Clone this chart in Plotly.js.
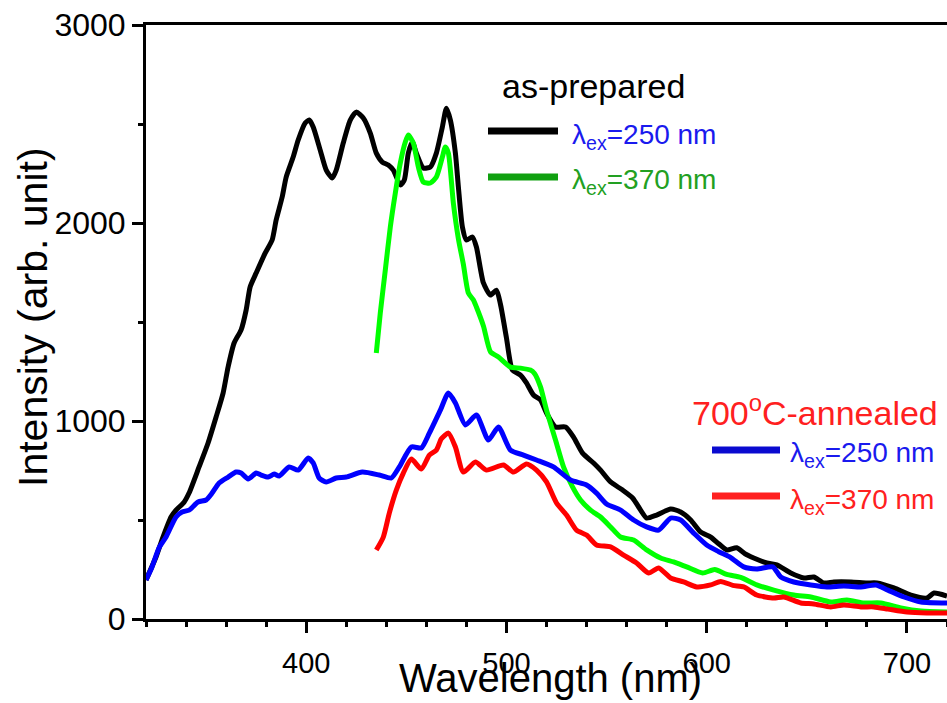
<!DOCTYPE html>
<html>
<head>
<meta charset="utf-8">
<script src="https://cdn.plot.ly/plotly-3.0.1.min.js"></script>
<style>html,body{margin:0;padding:0;background:#fff;}#chart{width:947px;height:703px;}</style>
</head>
<body>
<div id="chart"></div>
<script>
// as-prepared, excitation 250 nm (black)
const wlPrep250 = [320,325,328,332.5,335,339,341.5,346.5,351,355,358.5,361,364,367.5,370,372,375,379.5,383,385,388,390,393.5,396,399.5,401.5,403.5,407,410,413,415,418.5,422,425,428.5,432,435,438,441,443.5,447,449,451,453,455,458.5,462,465,468,470,472,474.5,476,478,480,483,485,488.5,492,495,497,500,503,507,510,513.5,517,520,524.5,529.5,533.5,538,543.5,547,552,558,563,567,570,575,582,587,592,597,602,606,610,615,619,623.5,630,635,642,648.5,653.5,658.5,663.5,672,680,685,693.5,702,710,713.5,720];
const inPrep250 = [197,313,400,515,550,590,636,768,889,1020,1141,1273,1394,1460,1560,1677,1747,1848,1914,2015,2131,2232,2333,2419,2505,2520,2485,2368,2267,2227,2267,2404,2520,2560,2530,2454,2353,2308,2293,2267,2192,2217,2353,2409,2353,2278,2283,2353,2485,2580,2520,2353,2182,1980,1914,1929,1879,1697,1636,1661,1590,1420,1257,1232,1192,1131,1106,1040,970,970,919,838,788,752,692,651,611,550,510,525,555,540,500,439,414,380,349,360,330,308,283,273,232,207,212,182,187,187,182,182,157,121,106,131,116];

// as-prepared, excitation 370 nm (green)
const wlPrep370 = [435,437,439.5,442,444.5,447,449.5,451,453.5,456,458.5,462,465,468,469.5,471,473.5,476,478.5,481,483.5,485,488.5,492,496,502,507,512,514,517,520,524.5,528.5,533,537,542,547,552,557,563.5,570,577,583.5,590,598,604,610,617,625,633.5,643.5,652,662,670,678.5,687,697,707,720];
const inPrep370 = [1343,1545,1762,1980,2151,2303,2409,2444,2404,2283,2207,2202,2232,2333,2384,2353,2100,1920,1790,1646,1611,1576,1480,1350,1323,1272,1267,1257,1240,1172,1055,904,768,667,601,550,515,465,414,399,349,308,288,263,232,250,225,210,172,146,121,111,86,96,81,81,56,40,35];

// 700°C-annealed, excitation 250 nm (blue)
const wlAnn250 = [320,323,326.5,330,335,338,341.5,346,350,353,356.5,361,365,367.5,371,375,377.5,381,384,386.5,391.5,396,401,403.5,406.5,410,415,420,428,436.5,442.5,446.5,452.5,457.5,461.5,467,471,474.5,479.5,485,491,496,502,508.5,515,523.5,532,540,545,550,557,563.5,570,576,582,587,593.5,600,606,612,618.5,625,633,637,643.5,652,660,668.5,677,684.5,690.5,698.5,707,720];
const inAnn250 = [197,263,359,414,515,540,550,591,601,636,687,717,742,737,707,737,727,717,732,722,768,752,813,788,712,692,712,717,742,727,712,768,869,864,939,1055,1141,1091,980,1030,904,970,853,828,803,768,702,677,636,581,550,500,465,449,510,500,434,374,340,310,263,253,263,212,187,172,162,167,162,172,146,111,86,81];

// 700°C-annealed, excitation 370 nm (red)
const wlAnn370 = [435,438.5,441.5,445,448.5,452.5,457.5,461.5,465,467.5,471,474.5,478.5,484.5,490,498.5,503.5,510,515,520,525,530,535,540,545,552,558.5,565,571,576,582,588.5,595,602,607,613,618.5,625,633.5,638.5,647,653.5,662,668.5,677,683.5,690.5,700,710,720];
const inAnn370 = [348,414,535,651,737,808,757,828,853,910,939,869,742,793,752,778,742,783,752,692,586,525,449,424,374,364,323,283,232,258,207,187,162,172,190,170,162,121,106,111,81,76,61,71,61,61,50,35,30,30];

const xTickVals = [400,500,600,700];
const yTickVals = [0,1000,2000,3000];
const xTitle = 'Wavelength (nm)';
const yTitle = 'Intensity (arb. unit)';

const FONT = 'Liberation Sans, Arial, sans-serif';

function trace(x, y, color) {
  return {x: x, y: y, type: 'scatter', mode: 'lines',
          line: {color: color, width: 5, shape: 'spline', smoothing: 0.6},
          showlegend: false, hoverinfo: 'skip'};
}

const data = [
  trace(wlPrep250, inPrep250, '#000000'),
  trace(wlPrep370, inPrep370, '#00ff00'),
  trace(wlAnn250, inAnn250, '#0000ff'),
  trace(wlAnn370, inAnn370, '#ff0000')
];

// paper coordinate helpers for legend / title placement (pixels -> paper)
const L = 146, T = 25, PW = 801, PH = 594;
const px = v => (v - L) / PW;
const py = v => (T + PH - v) / PH;

function legLine(x0, x1, y, color) {
  return {type: 'line', xref: 'paper', yref: 'paper', x0: px(x0), x1: px(x1), y0: py(y), y1: py(y),
          line: {color: color, width: 7}};
}
function legText(text, x, y, color, size) {
  return {text: text, xref: 'paper', yref: 'paper', x: px(x), y: py(y), xanchor: 'left', yanchor: 'middle',
          showarrow: false, font: {family: FONT, size: size, color: color}};
}

const layout = {
  width: 947, height: 703,
  margin: {l: L, r: 0, t: T, b: 703 - T - PH},
  paper_bgcolor: '#ffffff', plot_bgcolor: '#ffffff',
  showlegend: false,
  font: {family: FONT, color: '#000'},
  xaxis: {
    range: [320, 720], tickvals: xTickVals, ticktext: xTickVals.map(String),
    showgrid: false, zeroline: false, showline: true, linewidth: 3, linecolor: '#000', mirror: true,
    ticks: 'outside', ticklen: 11, tickwidth: 3, tickcolor: '#000', ticklabelstandoff: 5,
    minor: {dtick: 20, tick0: 0, ticks: 'outside', ticklen: 5, tickwidth: 3, tickcolor: '#000', showgrid: false},
    tickfont: {family: FONT, size: 29, color: '#000'}
  },
  yaxis: {
    range: [0, 3000], tickvals: yTickVals, ticktext: yTickVals.map(String),
    showgrid: false, zeroline: false, showline: true, linewidth: 3, linecolor: '#000',
    ticks: 'outside', ticklen: 11, tickwidth: 3, tickcolor: '#000',
    minor: {dtick: 500, tick0: 0, ticks: 'outside', ticklen: 5, tickwidth: 3, tickcolor: '#000', showgrid: false},
    tickfont: {family: FONT, size: 32, color: '#000'}
  },
  shapes: [
    legLine(488, 558, 131, '#000000'),
    legLine(488, 558, 177, '#10a010'),
    legLine(712, 780, 450, '#0a0ad0'),
    legLine(712, 780, 496, '#ff2020')
  ],
  annotations: [
    {text: xTitle, xref: 'paper', yref: 'paper', x: px(550), y: py(678), xanchor: 'center', yanchor: 'middle',
     showarrow: false, font: {family: FONT, size: 40, color: '#000'}},
    {text: yTitle, xref: 'paper', yref: 'paper', x: px(33), y: py(317), xanchor: 'center', yanchor: 'middle',
     textangle: -90, showarrow: false, font: {family: FONT, size: 41, color: '#000'}},
    legText('as-prepared', 500, 86, '#000000', 34),
    legText('λ<sub>ex</sub>=250 nm', 570, 136, '#1a1aee', 28),
    legText('λ<sub>ex</sub>=370 nm', 570, 182, '#22a022', 28),
    legText('700<sup>o</sup>C-annealed', 690, 410, '#ff2020', 34),
    legText('λ<sub>ex</sub>=250 nm', 788, 455, '#1a1aee', 28),
    legText('λ<sub>ex</sub>=370 nm', 788, 501, '#ff2020', 28)
  ]
};

Plotly.newPlot('chart', data, layout, {staticPlot: true, displayModeBar: false});
</script>
</body>
</html>
